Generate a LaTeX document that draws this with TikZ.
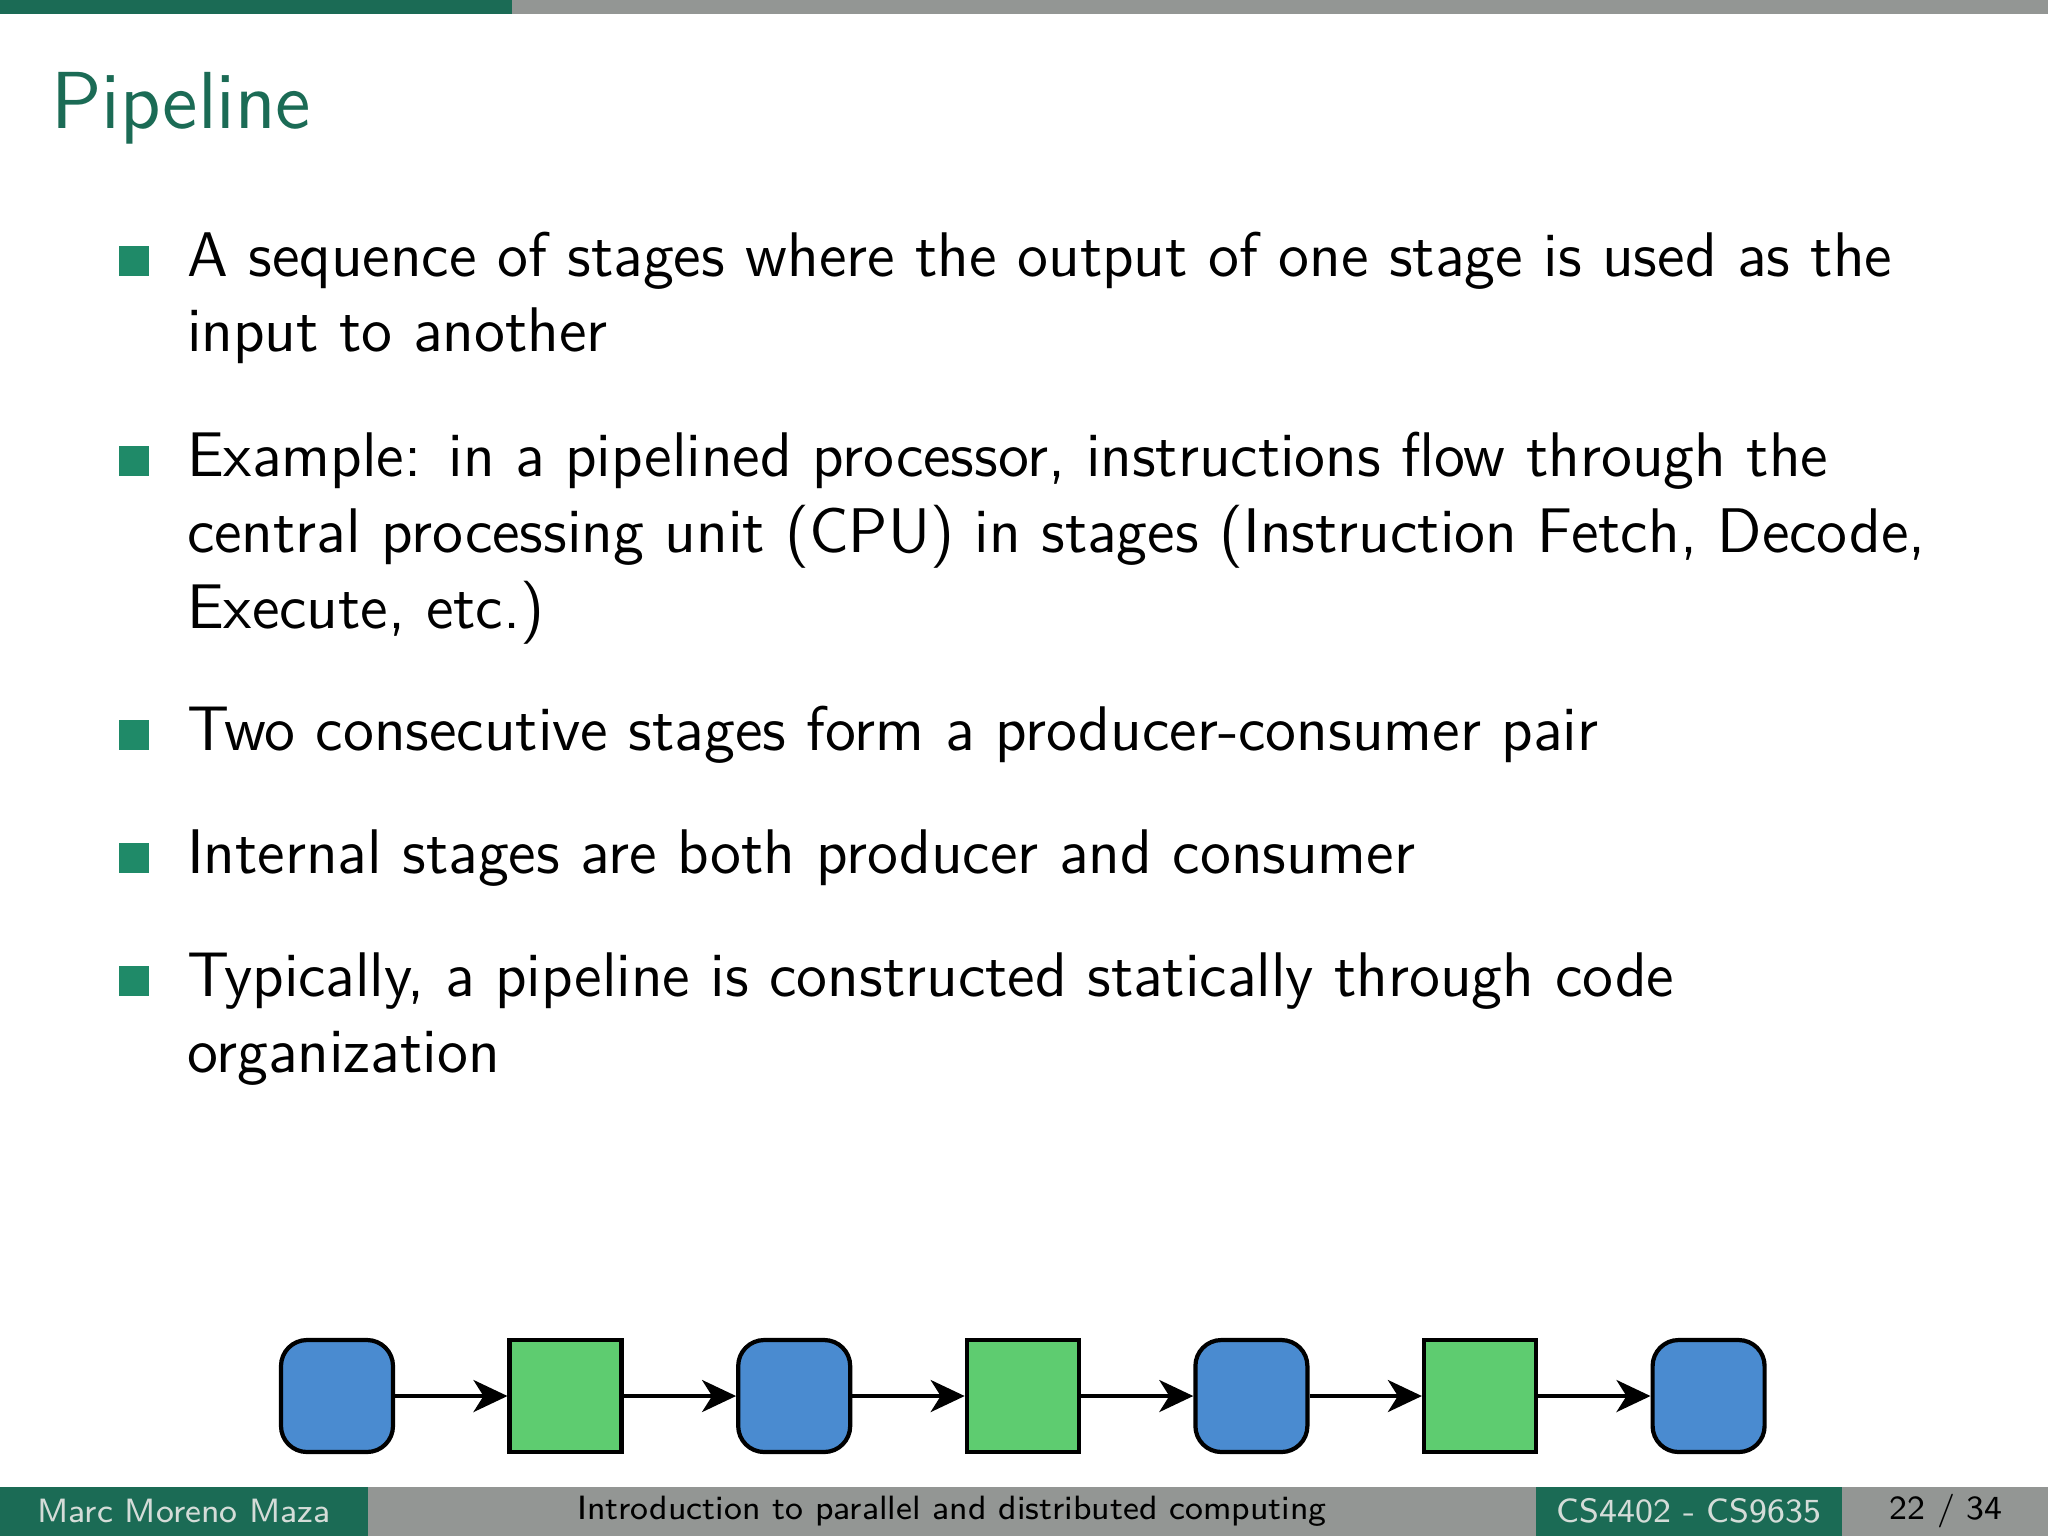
\documentclass[tikz,border=0pt]{standalone}
\usetikzlibrary{arrows.meta}
\definecolor{dgreen}{HTML}{1B6B55}
\definecolor{bgreen}{HTML}{1F8A68}
\definecolor{fgray}{HTML}{939694}
\definecolor{ftext}{HTML}{D4DCD8}
\definecolor{pblue}{HTML}{4A8BD0}
\definecolor{pgreen}{HTML}{5ECC70}
\begin{document}
\begin{tikzpicture}[x=0.00625cm,y=-0.00625cm,
  line/.style={anchor=base west,inner sep=0,font=\sffamily\fontsize{11.22}{13}\selectfont},
  bul/.style={fill=bgreen,minimum size=30*0.00625cm,inner sep=0,anchor=center},
  procbox/.style={draw=black,line width=0.75pt,fill=pblue,rounded corners=26*0.00625cm,minimum size=112*0.00625cm,inner sep=0},
  bufbox/.style={draw=black,line width=0.75pt,fill=pgreen,minimum size=112*0.00625cm,inner sep=0},
  conn/.style={line width=0.7pt,-{Stealth[length=34*0.00625cm,width=32*0.00625cm,inset=10*0.00625cm]}},
  foot/.style={anchor=center,inner sep=0,font=\sffamily\fontsize{6}{7}\selectfont}]
\useasboundingbox (0,0) rectangle (2048,1536);
\fill[white] (0,0) rectangle (2048,1536);
% top bar
\fill[dgreen] (0,0) rectangle (512,14);
\fill[fgray] (512,0) rectangle (2048,14);
% title
\node[anchor=base west,inner sep=0,text=dgreen,font=\sffamily\fontsize{14.4}{17}\selectfont] (title) at (50,128) {Pipeline};
% bullets
\node[bul] (b1) at (134,261) {};
\node[line] (l1a) at (186,276) {A sequence of stages where the output of one stage is used as the};
\node[line] (l1b) at (186,351) {input to another};
\node[bul] (b2) at (134,461) {};
\node[line] (l2a) at (186,476) {Example: in a pipelined processor, instructions flow through the};
\node[line] (l2b) at (186,552) {central processing unit (CPU) in stages (Instruction Fetch, Decode,};
\node[line] (l2c) at (186,628) {Execute, etc.)};
\node[bul] (b3) at (134,735) {};
\node[line] (l3a) at (186,750) {Two consecutive stages form a producer-consumer pair};
\node[bul] (b4) at (134,858) {};
\node[line] (l4a) at (186,873) {Internal stages are both producer and consumer};
\node[bul] (b5) at (134,981) {};
\node[line] (l5a) at (186,996) {Typically, a pipeline is constructed statically through code};
\node[line] (l5b) at (186,1072) {organization};
% pipeline
\node[procbox] (p1) at (337,1396) {};
\node[bufbox]  (q1) at (565.6,1396) {};
\node[procbox] (p2) at (794.2,1396) {};
\node[bufbox]  (q2) at (1022.8,1396) {};
\node[procbox] (p3) at (1251.4,1396) {};
\node[bufbox]  (q3) at (1480,1396) {};
\node[procbox] (p4) at (1708.6,1396) {};
\draw[conn] (p1) -- (q1);
\draw[conn] (q1) -- (p2);
\draw[conn] (p2) -- (q2);
\draw[conn] (q2) -- (p3);
\draw[conn] (p3) -- (q3);
\draw[conn] (q3) -- (p4);
% footer
\fill[dgreen] (0,1487) rectangle (368,1536);
\fill[fgray] (368,1487) rectangle (1536,1536);
\fill[dgreen] (1536,1487) rectangle (1842,1536);
\fill[fgray] (1842,1487) rectangle (2048,1536);
\node[foot,text=ftext] (f1) at (184,1511) {Marc Moreno Maza};
\node[foot,text=black] (f2) at (952,1511) {Introduction to parallel and distributed computing};
\node[foot,text=ftext] (f3) at (1689,1511) {CS4402 - CS9635};
\node[foot,text=black] (f4) at (1946,1511) {22 / 34};
\end{tikzpicture}
\end{document}
